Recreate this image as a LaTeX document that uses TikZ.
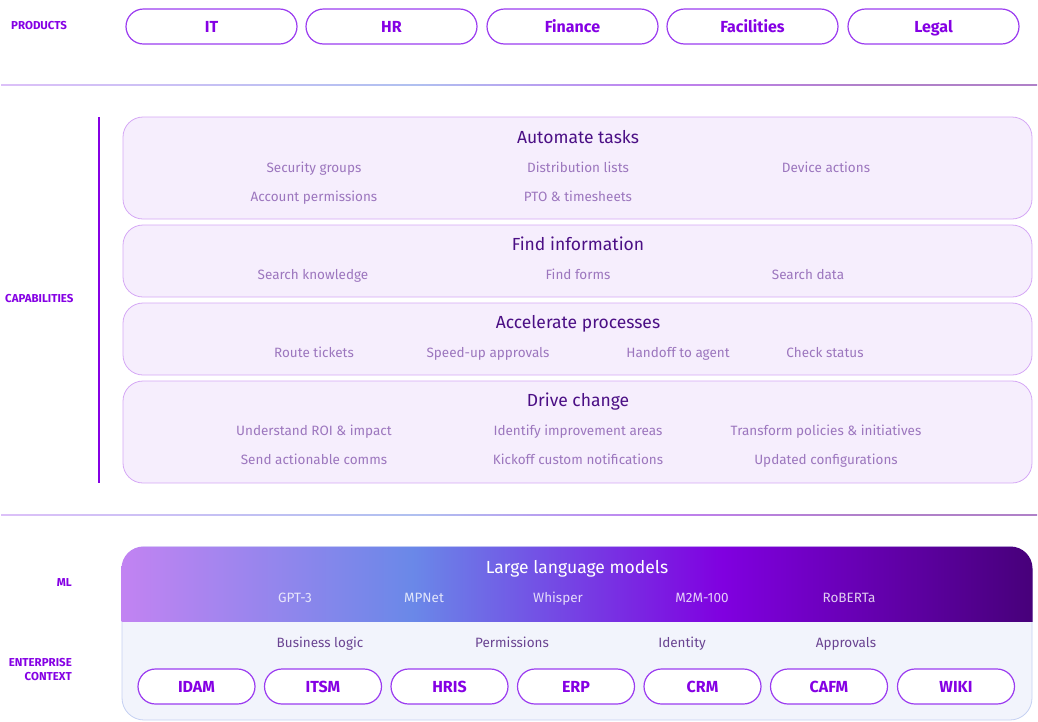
\documentclass[tikz,border=0pt]{standalone}
\usepackage{fontspec}
\setmainfont{Fira Sans}
\newcommand\lightfont{\normalfont}
\usetikzlibrary{positioning}
\definecolor{violet}{HTML}{8500E4}
\definecolor{pillborder}{HTML}{9B3CF0}
\definecolor{capfill}{HTML}{F6EEFD}
\definecolor{capborder}{HTML}{D5A8F5}
\definecolor{titlecol}{HTML}{4B0F85}
\definecolor{itemcol}{HTML}{9C76BE}
\definecolor{ctxfill}{HTML}{F2F4FC}
\definecolor{ctxborder}{HTML}{C5D0F2}
\definecolor{ctxcol}{HTML}{6A4492}
\definecolor{llmA}{HTML}{C283F2}
\definecolor{llmB}{HTML}{6A88E8}
\definecolor{llmC}{HTML}{8000E0}
\definecolor{llmD}{HTML}{47007A}
\definecolor{sepA}{HTML}{DCC0F8}
\definecolor{sepB}{HTML}{B0C0F0}
\definecolor{sepC}{HTML}{C080F0}
\definecolor{sepD}{HTML}{B080C8}
\pgfdeclarehorizontalshading{llmgrad}{100bp}{color(0bp)=(llmA); color(25bp)=(llmA); color(41bp)=(llmB); color(58bp)=(llmC); color(75bp)=(llmD); color(100bp)=(llmD)}
\pgfdeclarehorizontalshading{sepgrad}{100bp}{color(0bp)=(sepA); color(25bp)=(sepA); color(45bp)=(sepB); color(57bp)=(sepC); color(67bp)=(sepD); color(75bp)=(sepD); color(100bp)=(sepD)}
\tikzstyle{level} = [text height=1.2em, text depth=0.25em]
\tikzstyle{sidelabel} = [text=violet, font=\fontsize{11.5}{14}\selectfont\bfseries, inner sep=0pt]
\tikzstyle{product} = [level, text height=1.35em, draw=pillborder, line width=1.2pt, fill=white, rounded corners=17.5pt, minimum width=171pt, minimum height=35pt, text=violet, font=\fontsize{16}{18}\selectfont\bfseries]
\tikzstyle{system} = [product, minimum width=117pt]
\tikzstyle{capbox} = [draw=capborder, line width=0.8pt, fill=capfill, rounded corners=20pt, minimum width=909pt]
\tikzstyle{captitle} = [level, text height=1.45em, text=titlecol, font=\fontsize{17.5}{20}\selectfont, inner sep=0pt]
\tikzstyle{item} = [level, text=itemcol, font=\lightfont\fontsize{13.5}{16}\selectfont, inner sep=0pt]
\tikzstyle{model} = [level, text=white, text opacity=0.8, font=\lightfont\fontsize{13.5}{16}\selectfont, inner sep=0pt]
\tikzstyle{context} = [level, text=ctxcol, font=\lightfont\fontsize{13.5}{16}\selectfont, inner sep=0pt]

\begin{document}
\begin{tikzpicture}[x=1pt, y=-1pt]
\useasboundingbox (0,0) rectangle (1038,721);
% products
\node (prodlabel) [sidelabel, anchor=west] at (11,26) {PRODUCTS};
\node (it) [product] at (211.5,26.5) {IT};
\node (hr) [product] at (391.5,26.5) {HR};
\node (finance) [product] at (572.5,26.5) {Finance};
\node (facilities) [product] at (752.5,26.5) {Facilities};
\node (legal) [product] at (933.5,26.5) {Legal};
\shade [shading=sepgrad] (1,84.2) rectangle (1037,85.8);

% capabilities
\node (caplabel) [sidelabel, anchor=west] at (5,299) {CAPABILITIES};
\draw [violet, line width=2pt] (99,117) -- (99,483);
\node (automate) [capbox, minimum height=102pt] at (577.5,168) {};
\node (automatetitle) [captitle] at (578,137) {Automate tasks};
\node [item] at (314,168) {Security groups};
\node [item] at (578,168) {Distribution lists};
\node [item] at (826,168) {Device actions};
\node [item] at (314,197) {Account permissions};
\node [item] at (578,197) {PTO \& timesheets};
\node (find) [capbox, minimum height=72pt] at (577.5,261) {};
\node (findtitle) [captitle] at (578,244) {Find information};
\node [item] at (313,275) {Search knowledge};
\node [item] at (578,275) {Find forms};
\node [item] at (808,275) {Search data};
\node (accel) [capbox, minimum height=72pt] at (577.5,339) {};
\node (acceltitle) [captitle] at (578,322) {Accelerate processes};
\node [item] at (314,353) {Route tickets};
\node [item] at (488,353) {Speed-up approvals};
\node [item] at (678,353) {Handoff to agent};
\node [item] at (825,353) {Check status};
\node (drive) [capbox, minimum height=102pt] at (577.5,432) {};
\node (drivetitle) [captitle] at (578,400) {Drive change};
\node [item] at (314,431) {Understand ROI \& impact};
\node [item] at (578,431) {Identify improvement areas};
\node [item] at (826,431) {Transform policies \& initiatives};
\node [item] at (314,460) {Send actionable comms};
\node [item] at (578,460) {Kickoff custom notifications};
\node [item] at (826,460) {Updated configurations};
\shade [shading=sepgrad] (1,514.2) rectangle (1037,515.8);

% ml and enterprise context
\node (mllabel) [sidelabel, anchor=east] at (72,583) {ML};
\node (ctxlabel) [sidelabel, anchor=east, align=right] at (72,670) {ENTERPRISE\\CONTEXT};
\node (stack) [draw=ctxborder, line width=0.8pt, fill=ctxfill, rounded corners=22pt, minimum width=910pt, minimum height=173pt] at (577,633.5) {};
\begin{scope}
\clip [rounded corners=22pt] (121.5,546.5) rectangle (1032.5,720.5);
\shade [shading=llmgrad] (121,546) rectangle (1033,621.5);
\end{scope}
\node (llmtitle) [captitle, text=white] at (577,567) {Large language models};
\node [model] at (295,598) {GPT-3};
\node [model] at (424,598) {MPNet};
\node [model] at (558,598) {Whisper};
\node [model] at (702,598) {M2M-100};
\node [model] at (849,598) {RoBERTa};
\node [context] at (320,643) {Business logic};
\node [context] at (512,643) {Permissions};
\node [context] at (682,643) {Identity};
\node [context] at (846,643) {Approvals};
\node (idam) [system] at (196.5,686.5) {IDAM};
\node (itsm) [system] at (323,686.5) {ITSM};
\node (hris) [system] at (449.5,686.5) {HRIS};
\node (erp) [system] at (576,686.5) {ERP};
\node (crm) [system] at (702.5,686.5) {CRM};
\node (cafm) [system] at (829,686.5) {CAFM};
\node (wiki) [system] at (956,686.5) {WIKI};
\end{tikzpicture}
\end{document}
